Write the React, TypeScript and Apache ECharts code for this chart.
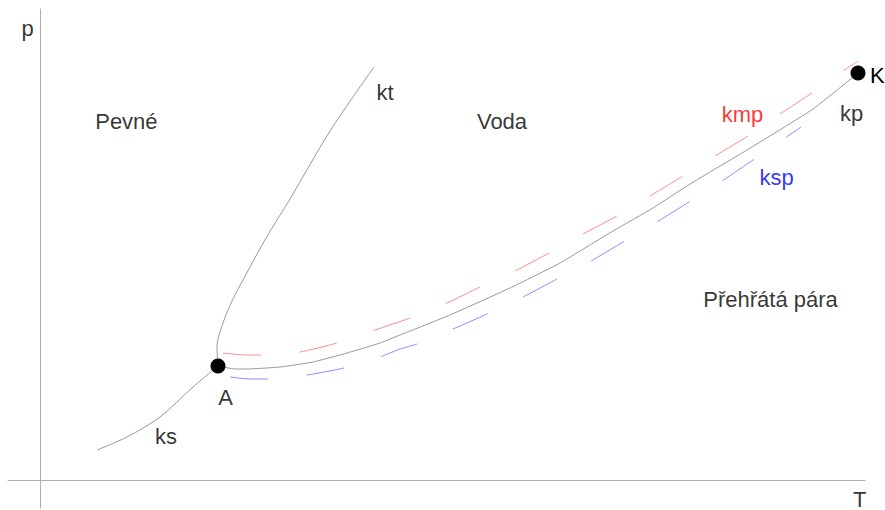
import React, { useEffect, useRef } from "react";
import * as echarts from "echarts";

// Schematic phase diagram of water (arbitrary units: T horizontal, p vertical)
const ksCurve: [number, number][] = [
  [57, 30], [87, 43], [120, 63], [153, 93], [178, 114],
];
const ktCurve: [number, number][] = [
  [178, 114], [177, 133], [183, 157], [192, 179], [203, 200], [226, 242],
  [250, 281], [290, 349], [334, 413],
];
const kpCurve: [number, number][] = [
  [178, 114], [195, 111], [207, 111], [240, 113], [273, 118], [307, 127],
  [340, 137], [360, 145], [410, 165], [470, 192], [520, 217], [573, 249],
  [613, 272], [650, 296], [707, 330], [773, 371], [818, 407],
];
const kmpCurve: [number, number][] = [
  [183, 127], [205, 125], [222, 125], [260, 128], [297, 137], [335, 150],
  [370, 162], [407, 177], [440, 193], [475, 209], [509, 227], [543, 246],
  [577, 264], [610, 284], [643, 304], [675, 324], [708, 344], [740, 366],
  [772, 387], [803, 409], [818, 419],
];
const kspCurve: [number, number][] = [
  [190, 103], [210, 101], [228, 101], [267, 105], [304, 112], [340, 123],
  [360, 131], [377, 136], [413, 151], [447, 166], [483, 183], [517, 201],
  [551, 219], [583, 238], [617, 258], [649, 278], [682, 299], [713, 320],
  [745, 342], [761, 353],
];
const pointA: [number, number] = [178, 114];
const pointK: [number, number] = [818, 407];

const labelNames = ["p", "T", "Pevné", "Voda", "kt", "kmp", "kp", "ksp", "Přehřátá pára", "ks", "A"];
const labelPos: [number, number][] = [
  [-12.5, 451.4], [819.7, -19], [86.4, 358.5], [462, 358.5], [345, 387.5],
  [702.5, 366], [811.5, 367], [736.5, 302.5], [730.5, 181], [126, 43.5], [185.5, 83],
];
const labelColors = ["#000", "#000", "#000", "#000", "#000", "#ff0000", "#000", "#0000ff", "#000", "#000", "#000"];

const FONT = "'Liberation Sans', Arial, sans-serif";

export default function App() {
  const ref = useRef<HTMLDivElement>(null);
  useEffect(() => {
    if (!ref.current) return;
    document.body.style.margin = "0";
    const chart = echarts.init(ref.current, undefined, { renderer: "svg", width: 885, height: 510 });
    const curveStyle = { color: "#999", width: 1 };
    chart.setOption({
      animation: false,
      backgroundColor: "#fff",
      grid: { left: 8, top: 9, width: 857, height: 499 },
      xAxis: {
        type: "value", min: -32, max: 825,
        axisLine: { show: true, onZero: true, lineStyle: { color: "#b0b0b0", width: 1 } },
        axisTick: { show: false }, axisLabel: { show: false }, splitLine: { show: false },
      },
      yAxis: {
        type: "value", min: -28, max: 471,
        axisLine: { show: true, onZero: true, lineStyle: { color: "#b0b0b0", width: 1 } },
        axisTick: { show: false }, axisLabel: { show: false }, splitLine: { show: false },
      },
      series: [
        { type: "line", data: ksCurve, showSymbol: false, smooth: 0.3, lineStyle: curveStyle, silent: true },
        { type: "line", data: ktCurve, showSymbol: false, smooth: 0.3, lineStyle: curveStyle, silent: true },
        { type: "line", data: kpCurve, showSymbol: false, smooth: 0.15, lineStyle: curveStyle, silent: true },
        { type: "line", data: kmpCurve, showSymbol: false, smooth: 0.2, silent: true,
          lineStyle: { color: "#ff8c8c", width: 1, type: [38, 39] } },
        { type: "line", data: kspCurve, showSymbol: false, smooth: 0.2, silent: true,
          lineStyle: { color: "#8c8cff", width: 1, type: [38, 39] } },
        {
          type: "scatter", symbol: "circle", symbolSize: 15, silent: true, clip: false, z: 10,
          itemStyle: { color: "#000", opacity: 1 },
          data: [
            { value: pointA },
            { value: pointK, label: { show: true, formatter: "K", position: "right", distance: 4.5, offset: [0, 2],
              color: "#000", fontSize: 22, fontFamily: FONT } },
          ],
        },
        {
          type: "scatter", symbolSize: 0, silent: true, clip: false, z: 10,
          data: labelPos.map((v, i) => ({
            value: v, name: labelNames[i],
            label: { show: true, position: "inside", formatter: labelNames[i], color: labelColors[i],
              fontSize: 22, fontFamily: FONT },
          })),
        },
      ],
    });
    return () => chart.dispose();
  }, []);
  return <div ref={ref} style={{ width: 885, height: 510 }} />;
}
